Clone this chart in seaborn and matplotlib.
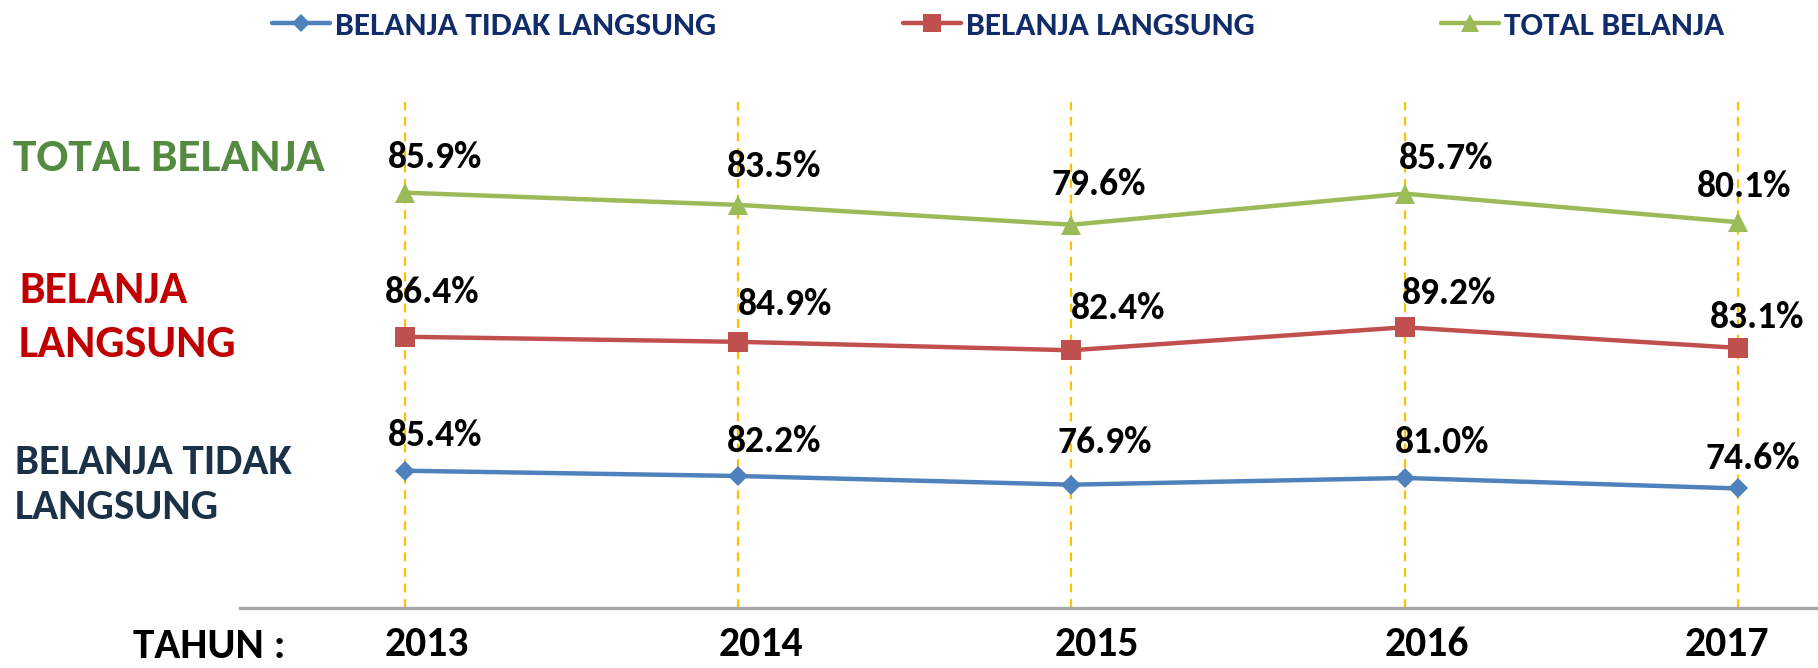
import matplotlib
matplotlib.use("Agg")
import matplotlib.pyplot as plt
from matplotlib import font_manager
from matplotlib.lines import Line2D
from matplotlib.transforms import ScaledTranslation
import seaborn as sns
import pandas as pd

# ---------------- data ----------------
years = [2013, 2014, 2015, 2016, 2017]
tidak_langsung = [85.4, 82.2, 76.9, 81.0, 74.6]
langsung = [86.4, 84.9, 82.4, 89.2, 83.1]
total = [85.9, 83.5, 79.6, 85.7, 80.1]
series_names = ["BELANJA TIDAK LANGSUNG", "BELANJA LANGSUNG", "TOTAL BELANJA"]
x_title = "TAHUN :"

# ---------------- style ----------------
sns.set_theme(style="white")
names = {f.name for f in font_manager.fontManager.ttflist}
FONT = "Carlito" if "Carlito" in names else ("Lato" if "Lato" in names else "DejaVu Sans")
FAM = [FONT, "DejaVu Sans"]
plt.rcParams["font.family"] = FAM

colors = ["#4F81BD", "#C0504D", "#9BBB59"]
markers = ["D", "s", "^"]
msizes = [10.5, 15, 15]
ylims = [(1.72, 310.2), (6.15, 155.85), (4.30, 103.71)]
# label offsets in pixels (dx, dy upward)
offsets = [
    [(30, 35), (36, 34), (33, 42), (37, 35), (15, 30)],
    [(27, 44), (47, 37), (47, 42), (44, 34), (19, 30)],
    [(30, 35), (36, 38), (27, 40), (41, 35), (6, 36)],
]
year_dx = [22, 23, 25, 22, -11]

W, H = 1818, 668
fig = plt.figure(figsize=(W / 100, H / 100), dpi=100)
rect = [240 / W, 60 / H, 1 - 240 / W, 506 / H]

axes = []
for i in range(3):
    ax = fig.add_axes(rect, sharex=axes[0] if axes else None)
    ax.patch.set_alpha(0)
    axes.append(ax)

base = axes[0]
for yr in years:
    base.axvline(yr, color="#FFC000", lw=1.6, ls=(0, (4, 3)), zorder=0)

data_list = [tidak_langsung, langsung, total]
for i, (ax, vals) in enumerate(zip(axes, data_list)):
    df = pd.DataFrame({"year": years, "value": vals})
    sns.lineplot(data=df, x="year", y="value", ax=ax, color=colors[i],
                 lw=3.2, marker=markers[i], markersize=msizes[i],
                 markeredgewidth=0, legend=False, zorder=3)
    ax.set_ylim(*ylims[i])
    for j, (yr, v) in enumerate(zip(years, vals)):
        dx, dy = offsets[i][j]
        ax.annotate(f"{v:.1f}%", (yr, v), xytext=(dx, dy),
                    textcoords="offset pixels", ha="center", va="center",
                    fontsize=27, fontweight="bold", color="black", family=FAM)
    ax.set_ylabel("")
    ax.set_xlabel("")
    ax.set_yticks([])
    for s in ax.spines.values():
        s.set_visible(False)

base.set_xlim(2012.505, 2017.24)
base.spines["bottom"].set_visible(True)
base.spines["bottom"].set_color("#A6A6A6")
base.spines["bottom"].set_linewidth(2.4)
base.set_xticks(years)
base.set_xticklabels([str(y) for y in years], fontsize=30, fontweight="bold",
                     family=FAM, color="black")
base.tick_params(axis="x", length=0, pad=13)
for lab, dx in zip(base.get_xticklabels(), year_dx):
    lab.set_transform(lab.get_transform() + ScaledTranslation(dx / 100, 0, fig.dpi_scale_trans))
for ax in axes[1:]:
    ax.tick_params(axis="x", labelbottom=False, length=0)

fig.text(133 / W, 1 - 647 / H, x_title, ha="left", va="center", fontsize=31,
         fontweight="bold", color="black")

# left-side labels
fig.text(13 / W, 1 - 158 / H, "TOTAL BELANJA", ha="left", va="center",
         fontsize=34, fontweight="bold", color="#558B40")
fig.text(19 / W, 1 - 317 / H, "BELANJA\nLANGSUNG", ha="left", va="center",
         fontsize=33, fontweight="bold", color="#C00000", linespacing=1.45)
fig.text(15 / W, 1 - 485 / H, "BELANJA TIDAK\nLANGSUNG", ha="left", va="center",
         fontsize=31, fontweight="bold", color="#1B3147", linespacing=1.26)

# legend
handles = [Line2D([0], [0], color=colors[i], lw=3.2, marker=markers[i],
                  markersize=msizes[i] * 0.85, markeredgewidth=0)
           for i in range(3)]
leg = fig.legend(handles, series_names, loc="center left", ncol=3,
                 bbox_to_anchor=(272 / W, 1 - 26 / H), frameon=False,
                 borderpad=0, borderaxespad=0,
                 handlelength=1.74, handletextpad=0.15, columnspacing=5.6,
                 prop={"family": FAM, "weight": "bold", "size": 24})
for t in leg.get_texts():
    t.set_color("#112C6A")

fig.savefig("out.png", dpi=100)
